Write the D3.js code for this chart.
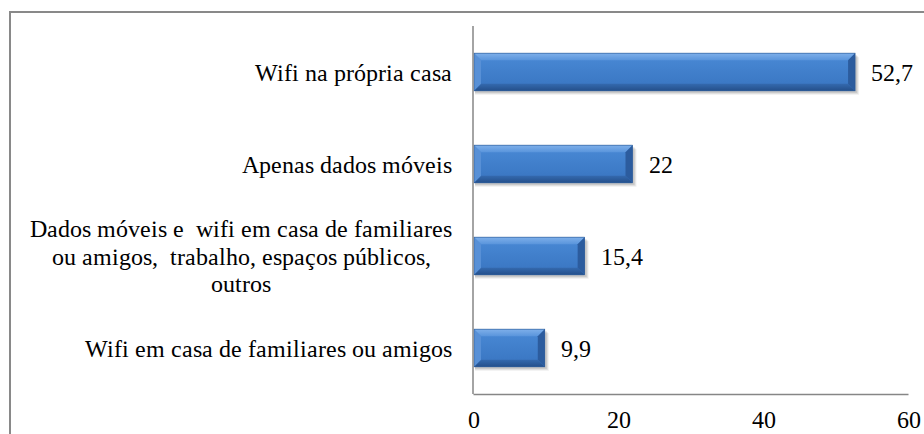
<!DOCTYPE html>
<html>
<head>
<meta charset="utf-8">
<script src="https://cdn.jsdelivr.net/npm/d3@7"></script>
<style>
  @font-face { font-family: "ChartSerif"; src: local("Liberation Serif"), local("LiberationSerif"), local("LiberationSerif-Regular"), local("Times New Roman"); }
  html, body { margin: 0; padding: 0; background: #fff; }
  svg { display: block; }
  #chart text { font-family: "ChartSerif", "Liberation Serif", "DejaVu Serif", serif !important; }
</style>
</head>
<body>
<svg id="chart" width="924" height="434"></svg>
<script>
// ---- data ----
const categories = [
  "Wifi na própria casa",
  "Apenas dados móveis",
  "Dados móveis e  wifi em casa de familiares ou amigos,  trabalho, espaços públicos, outros",
  "Wifi em casa de familiares ou amigos"
];
const categoryLines = [
  ["Wifi na própria casa"],
  ["Apenas dados móveis"],
  ["Dados móveis e\u00a0 wifi em casa de familiares", "ou amigos,\u00a0 trabalho, espaços públicos,", "outros"],
  ["Wifi em casa de familiares ou amigos"]
];
const values = [52.7, 22, 15.4, 9.9];
const valueLabels = ["52,7", "22", "15,4", "9,9"];
const xTicks = [0, 20, 40, 60];

// ---- layout ----
const svg = d3.select("#chart");
const FONT = "ChartSerif, 'Liberation Serif', 'DejaVu Serif', serif";
const fontSize = 23.5;
const setFont = sel => sel.each(function() {
  this.style.setProperty("font-family", FONT, "important");
});
const x = d3.scaleLinear().domain([0, 60]).range([473, 908]);
const y = d3.scaleBand().domain(categories).range([26, 394])
  .paddingInner(0.59).paddingOuter(0.295);

// frame
svg.append("path")
  .attr("d", "M10,434 L10,12 L924,12")
  .attr("fill", "none").attr("stroke", "#898989").attr("stroke-width", 2);

// gradients
const defs = svg.append("defs");
const g = defs.append("linearGradient").attr("id", "face")
  .attr("x1", 0).attr("y1", 0).attr("x2", 0).attr("y2", 1);
g.append("stop").attr("offset", "0%").attr("stop-color", "#4a8ad6");
g.append("stop").attr("offset", "100%").attr("stop-color", "#3874c0");

const gt = defs.append("linearGradient").attr("id", "topb")
  .attr("x1", 0).attr("y1", 0).attr("x2", 0).attr("y2", 1);
gt.append("stop").attr("offset", "0%").attr("stop-color", "#7fb0ea");
gt.append("stop").attr("offset", "100%").attr("stop-color", "#5a95dc");

const gb = defs.append("linearGradient").attr("id", "botb")
  .attr("x1", 0).attr("y1", 0).attr("x2", 0).attr("y2", 1);
gb.append("stop").attr("offset", "0%").attr("stop-color", "#3469ae");
gb.append("stop").attr("offset", "100%").attr("stop-color", "#244f8a");

// bars
const bev = 7;
const bars = svg.append("g").selectAll("g").data(values).join("g");
bars.each(function(v, i) {
  const sel = d3.select(this);
  const x0 = x(0) + 1, x1 = x(v), y0 = y(categories[i]), y1 = y0 + y.bandwidth();
  const b = Math.min(bev, (x1 - x0) / 2);
  [[4, 0.06], [3, 0.08], [2, 0.1]].forEach(([o, a]) => {
    sel.append("rect").attr("x", x0 + 1).attr("y", y0 + o)
      .attr("width", x1 - x0 + o - 1).attr("height", y1 - y0)
      .attr("fill", "#000").attr("opacity", a);
  });
  const pts = a => a.map(p => p.join(",")).join(" ");
  sel.append("rect").attr("x", x0).attr("y", y0).attr("width", x1 - x0).attr("height", y1 - y0)
    .attr("fill", "url(#face)");
  sel.append("polygon").attr("points", pts([[x0,y0],[x1,y0],[x1-b,y0+b],[x0+b,y0+b]])).attr("fill", "url(#topb)");
  sel.append("polygon").attr("points", pts([[x0,y1],[x1,y1],[x1-b,y1-b],[x0+b,y1-b]])).attr("fill", "url(#botb)");
  sel.append("polygon").attr("points", pts([[x0,y0],[x0+b,y0+b],[x0+b,y1-b],[x0,y1]])).attr("fill", "#5890d6");
  sel.append("polygon").attr("points", pts([[x1,y0],[x1-b,y0+b],[x1-b,y1-b],[x1,y1]])).attr("fill", "#2c5c9e");
  sel.append("rect").attr("x", x0).attr("y", y0).attr("width", x1 - x0).attr("height", y1 - y0)
    .attr("fill", "none").attr("stroke", "#2a5793").attr("stroke-width", 0.6);
});

// value labels
svg.append("g").selectAll("text").data(values).join("text")
  .attr("x", d => x(d) + 16)
  .attr("y", (d, i) => y(categories[i]) + y.bandwidth() / 2 + 8.5)
  .attr("font-size", fontSize)
  .attr("fill", "#000")
  .text((d, i) => valueLabels[i])
  .call(setFont);

// y axis line
svg.append("line").attr("x1", x(0)).attr("x2", x(0)).attr("y1", 26).attr("y2", 394)
  .attr("stroke", "#868686").attr("stroke-width", 1.5);

// x axis
const xAxis = svg.append("g").attr("transform", "translate(0,394)")
  .call(d3.axisBottom(x).tickValues(xTicks).tickSize(0).tickFormat(d3.format("d")));
xAxis.attr("font-family", null).attr("font-size", fontSize);
xAxis.select(".domain").attr("stroke", "#868686").attr("stroke-width", 1.5);
xAxis.selectAll("text").attr("y", 34).attr("dy", null)
  .attr("font-size", fontSize).attr("fill", "#000")
  .call(setFont);

// category labels
const labelRight = 452;
const lineH = 27.7;
categoryLines.forEach((lines, i) => {
  const cy = y(categories[i]) + y.bandwidth() / 2;
  const grp = svg.append("g");
  const texts = grp.selectAll("text").data(lines).join("text")
    .attr("font-size", fontSize)
    .attr("fill", "#000")
    .attr("text-anchor", "middle")
    .attr("y", (d, j) => cy + 8.5 + (j - (lines.length - 1) / 2) * lineH)
    .text(d => d)
    .call(setFont);
  let maxW = 0;
  texts.each(function() { maxW = Math.max(maxW, this.getComputedTextLength()); });
  texts.attr("x", labelRight - maxW / 2);
});
</script>
</body>
</html>
